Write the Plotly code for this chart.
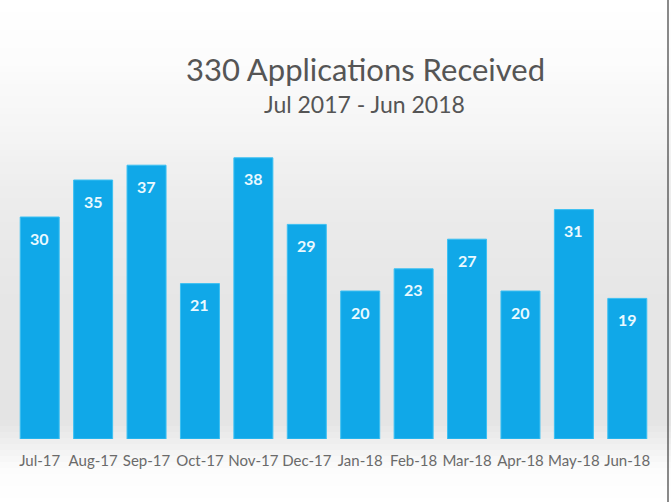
import plotly.graph_objects as go

months = ["Jul-17", "Aug-17", "Sep-17", "Oct-17", "Nov-17", "Dec-17",
          "Jan-18", "Feb-18", "Mar-18", "Apr-18", "May-18", "Jun-18"]
applications = [30, 35, 37, 21, 38, 29, 20, 23, 27, 20, 31, 19]
title_text = "330 Applications Received"
subtitle_text = "Jul 2017 - Jun 2018"

W, H = 671, 502
ML, MR, MT, MB = 13, 17, 143, 63
PH = H - MT - MB

def py2paper(py):
    return (H - MB - py) / PH

def bg_gray(py):
    # vertical background gradient (value 0-255)
    stops = [(0, 255), (60, 252), (130, 245), (200, 236), (300, 230),
             (420, 228), (445, 240), (470, 252), (502, 255)]
    for (y0, c0), (y1, c1) in zip(stops[:-1], stops[1:]):
        if y0 <= py <= y1:
            return c0 + (c1 - c0) * (py - y0) / (y1 - y0)
    return 255

shapes = []
step = 6
for py in range(0, H, step):
    g = int(round(bg_gray(py + step / 2)))
    shapes.append(dict(type="rect", xref="paper", yref="paper",
                       x0=-1, x1=2, y0=py2paper(py + step), y1=py2paper(py),
                       fillcolor=f"rgb({g},{g},{g})", line=dict(width=0),
                       layer="below"))
# screen edge on right
shapes.append(dict(type="line", xref="paper", yref="paper",
                   x0=(668 - ML) / (W - ML - MR), x1=(668 - ML) / (W - ML - MR),
                   y0=py2paper(H), y1=py2paper(0),
                   line=dict(color="rgba(60,60,60,0.6)", width=2), layer="above"))

fig = go.Figure()
fig.add_trace(go.Bar(
    x=months, y=applications,
    marker=dict(color="#10A8E8", line=dict(color="#3CC0F2", width=1)),
    hoverinfo="skip",
))

annotations = []
for m, v in zip(months, applications):
    annotations.append(dict(x=m, y=v, xref="x", yref="y", text=str(v),
                            showarrow=False, yshift=-21,
                            font=dict(family="Lato", size=16, color="#EAF9FF",
                                      weight="bold")))
annotations.append(dict(x=(365 - ML) / (W - ML - MR), y=py2paper(69),
                        xref="paper", yref="paper", text=title_text,
                        showarrow=False, xanchor="center", yanchor="middle",
                        font=dict(family="Lato", size=31, color="#555555")))
annotations.append(dict(x=(364 - ML) / (W - ML - MR), y=py2paper(104),
                        xref="paper", yref="paper", text=subtitle_text,
                        showarrow=False, xanchor="center", yanchor="middle",
                        font=dict(family="Lato", size=23, color="#555555")))

fig.update_layout(
    width=W, height=H,
    margin=dict(l=ML, r=MR, t=MT, b=MB),
    paper_bgcolor="white",
    plot_bgcolor="rgba(0,0,0,0)",
    bargap=0.27,
    showlegend=False,
    shapes=shapes,
    annotations=annotations,
    xaxis=dict(showgrid=False, zeroline=False, showline=False, ticks="",
               tickfont=dict(family="Lato", size=15, color="#6A6A6A"),
               ticklabelstandoff=11),
    yaxis=dict(range=[0, 40], visible=False, showgrid=False, zeroline=False),
)

fig.write_html("out.html")
